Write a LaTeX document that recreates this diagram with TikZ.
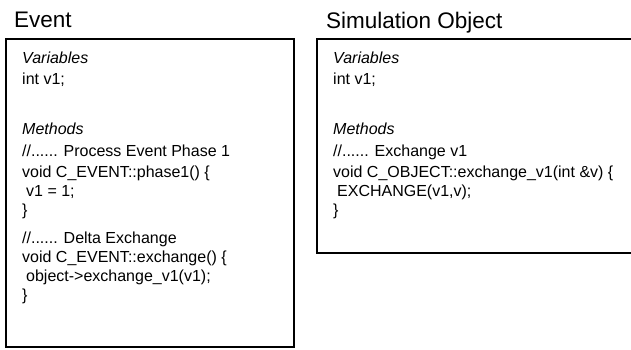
\documentclass[tikz,border=0pt]{standalone}
\usepackage{fontspec}
\setmainfont{Liberation Sans}

\begin{document}
\begin{tikzpicture}[x=1pt,y=-1pt,
        title/.style={anchor=base west,inner sep=0pt,font=\fontsize{22.5}{26}\selectfont},
        code/.style={anchor=base west,inner sep=0pt,font=\fontsize{16}{19}\selectfont},
        head/.style={code,font=\fontsize{16}{19}\selectfont\itshape},
        codebox/.style={draw,line width=2pt}]
        \useasboundingbox (0,0) rectangle (631,349);
        % titles
        \node[title](evtitle) at (14,27) {Event};
        \node[title](objtitle) at (326,28) {Simulation Object};
        % boxes
        \draw[codebox] (6,39) rectangle (294,347);
        \draw[codebox] (317,39) rectangle (640,253);
        % event class
        \node[head](evvars) at (22,63) {Variables};
        \node[code](evint) at (22,84) {int v1;};
        \node[head](evmeth) at (22,134) {Methods};
        \node[code](evc1) at (22,156) {//...... Process Event Phase 1};
        \node[code](evf1) at (22,177) {void C\_EVENT::phase1() \{};
        \node[code](evb1) at (26,196) {v1 = 1;};
        \node[code](eve1) at (22,215) {\}};
        \node[code](evc2) at (22,243) {//...... Delta Exchange};
        \node[code](evf2) at (22,262) {void C\_EVENT::exchange() \{};
        \node[code](evb2) at (26,281) {object->exchange\_v1(v1);};
        \node[code](eve2) at (22,300) {\}};
        % simulation object
        \node[head](obvars) at (333,63) {Variables};
        \node[code](obint) at (333,84) {int v1;};
        \node[head](obmeth) at (333,134) {Methods};
        \node[code](obc1) at (333,156) {//...... Exchange v1};
        \node[code](obf1) at (333,177) {void C\_OBJECT::exchange\_v1(int \&v) \{};
        \node[code](obb1) at (337,196) {EXCHANGE(v1,v);};
        \node[code](obe1) at (333,215) {\}};
        \end{tikzpicture}
\end{document}
